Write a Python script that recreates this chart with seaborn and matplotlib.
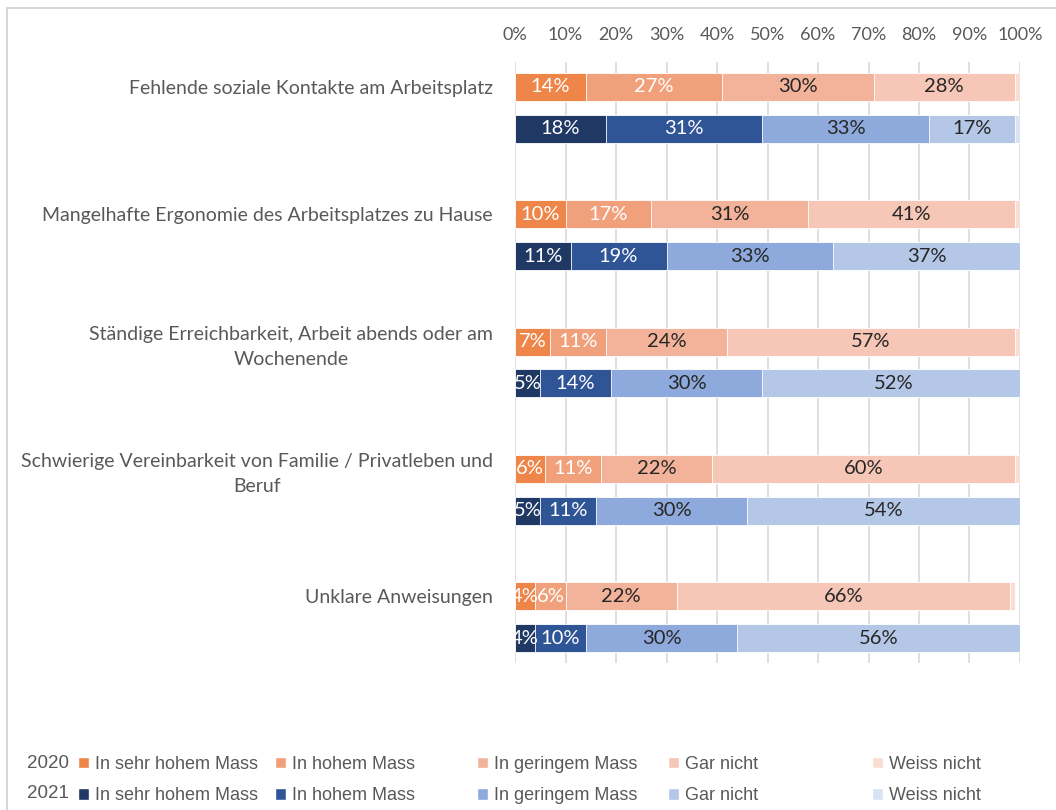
import numpy as np
import pandas as pd
import matplotlib
matplotlib.use("Agg")
import matplotlib.pyplot as plt
from matplotlib.patches import Patch
from matplotlib.lines import Line2D
import seaborn as sns

# Data
categories = [
    "Fehlende soziale Kontakte am Arbeitsplatz",
    "Mangelhafte Ergonomie des Arbeitsplatzes zu Hause",
    "Ständige Erreichbarkeit, Arbeit abends oder am\nWochenende",
    "Schwierige Vereinbarkeit von Familie / Privatleben und\nBeruf",
    "Unklare Anweisungen",
]
years = ["2020", "2021"]
segments = ["In sehr hohem Mass", "In hohem Mass", "In geringem Mass", "Gar nicht", "Weiss nicht"]

y2020_sehr_hoch = [14, 10, 7, 6, 4]
y2020_hoch = [27, 17, 11, 11, 6]
y2020_gering = [30, 31, 24, 22, 22]
y2020_gar_nicht = [28, 41, 57, 60, 66]
y2020_weiss_nicht = [1, 1, 1, 1, 1]

y2021_sehr_hoch = [18, 11, 5, 5, 4]
y2021_hoch = [31, 19, 14, 11, 10]
y2021_gering = [33, 33, 30, 30, 30]
y2021_gar_nicht = [17, 37, 52, 54, 56]
y2021_weiss_nicht = [1, 0.5, 0.5, 0.5, 0.5]

orange = ["#EE8549", "#F1A07C", "#F3B39B", "#F6C6B6", "#F9DDD3"]
blue = ["#1F3864", "#2F5597", "#8EA9DB", "#B4C7E7", "#DAE3F3"]
label_colors = ["white", "white", "#262626", "#262626", None]

vals = {
    "2020": [y2020_sehr_hoch, y2020_hoch, y2020_gering, y2020_gar_nicht, y2020_weiss_nicht],
    "2021": [y2021_sehr_hoch, y2021_hoch, y2021_gering, y2021_gar_nicht, y2021_weiss_nicht],
}

rows = []
for yr in years:
    cum = np.cumsum(np.array(vals[yr], dtype=float), axis=0)
    for i, cat in enumerate(categories):
        for k, seg in enumerate(segments):
            rows.append({"cat": cat, "year": yr, "seg": seg, "k": k,
                         "value": vals[yr][k][i], "cum": cum[k, i]})
df = pd.DataFrame(rows)

sns.set_theme(style="white")
plt.rcParams["font.family"] = ["Lato", "DejaVu Sans"]

fig = plt.figure(figsize=(10.56, 8.10), dpi=100)
ax = fig.add_axes([515 / 1056, 1 - 663 / 810, 505 / 1056, (663 - 62) / 810])

W = 0.656
for k in reversed(range(len(segments))):
    sub = df[df["k"] == k]
    sns.barplot(data=sub, y="cat", x="cum", hue="year", order=categories, hue_order=years,
                palette={"2020": orange[k], "2021": blue[k]}, orient="h", saturation=1,
                width=W, gap=0.33, dodge=True, edgecolor="white", linewidth=0.6,
                legend=False, ax=ax, zorder=3)
    if label_colors[k] is None:
        continue
    for yr, cont in zip(years, ax.containers[-2:]):
        for i, p in enumerate(cont.patches):
            v = vals[yr][k][i]
            ax.text(p.get_width() - v / 2, p.get_y() + p.get_height() / 2, f"{v}%",
                    ha="center", va="center", fontsize=14.5, color=label_colors[k], zorder=5)

ax.set_xlim(0, 100)
ax.set_ylim(4.36, -0.36)
ax.set_xticks(np.arange(0, 101, 10))
ax.set_xticklabels([f"{t}%" for t in range(0, 101, 10)])
ax.xaxis.tick_top()
ax.tick_params(axis="x", length=0, labelsize=13, labelcolor="#595959", pad=14)
ax.set_yticks([i - W / 4 for i in range(len(categories))])
ax.set_yticklabels(categories)
ax.tick_params(axis="y", length=0, labelsize=14, labelcolor="#595959", pad=16)
for lab in ax.get_yticklabels():
    lab.set_multialignment("center")
    lab.set_linespacing(1.55)
ax.set_xlabel("")
ax.set_ylabel("")
ax.grid(axis="x", color="#D9D9D9", linewidth=1.2, zorder=0)
ax.set_axisbelow(True)
sns.despine(ax=ax, left=True, bottom=True, top=True, right=True)

# legend: one small legend per column, year labels in front
col_x = [78, 275, 477, 668, 872]
for k, seg in enumerate(segments):
    handles = [Patch(facecolor=orange[k]), Patch(facecolor=blue[k])]
    fig.legend(handles, [seg, seg], loc="upper left",
               bbox_to_anchor=(col_x[k] / 1056, 1 - 756 / 810), frameon=False,
               handlelength=0.6, handleheight=0.6, handletextpad=0.35, labelspacing=0.8,
               borderpad=0, borderaxespad=0,
               prop={"family": ["Liberation Sans Narrow", "Liberation Sans"], "size": 13},
               labelcolor="#595959")
for yr, ypix in zip(years, [763, 794]):
    fig.text(27 / 1056, 1 - ypix / 810, yr, ha="left", va="center", fontsize=13.5,
             color="#595959", family=["Liberation Sans Narrow", "Liberation Sans"])

# chart frame
fig.add_artist(Line2D([7 / 1056, 1], [1 - 8 / 810, 1 - 8 / 810], color="#D0D0D0", linewidth=1.2))
fig.add_artist(Line2D([7 / 1056, 7 / 1056], [0, 1 - 8 / 810], color="#D0D0D0", linewidth=1.2))

fig.savefig("out.png", dpi=100)
